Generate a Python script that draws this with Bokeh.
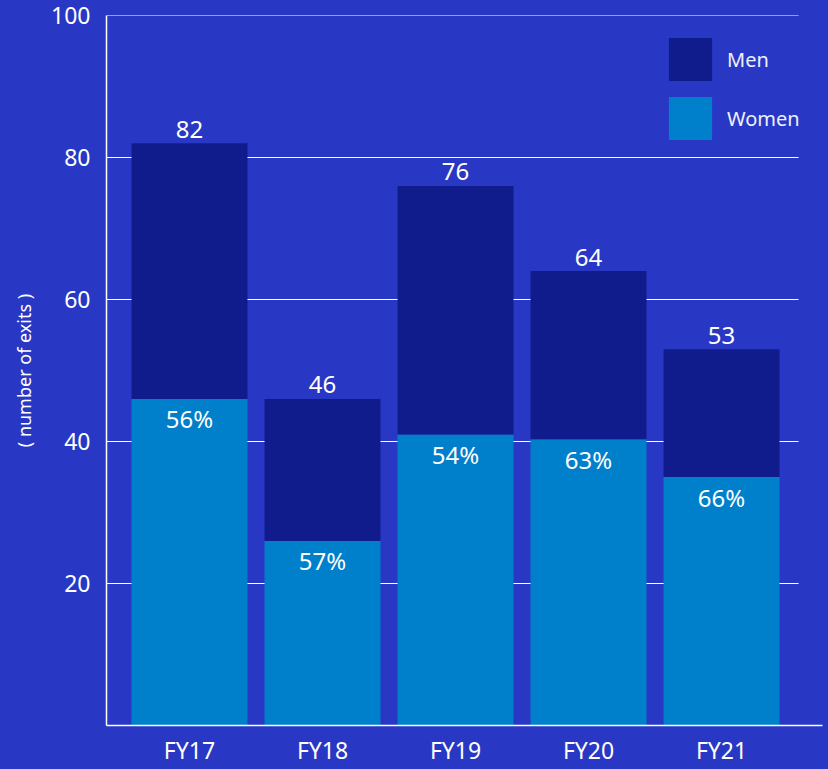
from bokeh.plotting import figure
from bokeh.models import ColumnDataSource, Range1d, FixedTicker, Legend, LegendItem
from bokeh.embed import file_html
from bokeh.resources import INLINE
from bokeh.core.properties import value

# ---- data ----
years = ["FY17", "FY18", "FY19", "FY20", "FY21"]
totals = [82, 46, 76, 64, 53]
women = [46, 26, 41, 40.3, 35]
women_pct = ["56%", "57%", "54%", "63%", "66%"]
y_ticks = [20, 40, 60, 80, 100]

BG = "#2938c4"
MEN_C = "#111c8c"
WOMEN_C = "#0080cb"
FONT = "Noto Sans"

X_START, X_END, GRID_END = -0.624, 4.759, 4.579

xs = list(range(len(years)))
men = [t - w for t, w in zip(totals, women)]
src = ColumnDataSource(dict(x=xs, women=women, men=men, total=totals,
                            pct=women_pct, total_lbl=[str(t) for t in totals]))

p = figure(frame_width=716, frame_height=710, output_backend="svg", toolbar_location=None,
           x_range=Range1d(X_START, X_END), y_range=Range1d(0, 100),
           min_border_left=106, min_border_right=6, min_border_top=15, min_border_bottom=40)
p.background_fill_color = BG
p.border_fill_color = BG
p.outline_line_color = None

# horizontal grid lines (shorter than the x axis, as in the original)
p.segment(x0=[X_START] * len(y_ticks), y0=y_ticks, x1=[GRID_END] * len(y_ticks), y1=y_ticks,
          line_color="white", line_width=1.2)

r = p.vbar_stack(["women", "men"], x="x", width=0.872, source=src,
                 color=[WOMEN_C, MEN_C], line_color=None)

p.text(x="x", y="total", text="total_lbl", source=src, text_color="white",
       text_font=value(FONT), text_font_size="24px", text_align="center",
       text_baseline="alphabetic", y_offset=-14)
p.text(x="x", y="women", text="pct", source=src, text_color="white",
       text_font=value(FONT), text_font_size="24px", text_align="center",
       text_baseline="alphabetic", y_offset=20)

# axes
p.xaxis.ticker = FixedTicker(ticks=xs)
p.xaxis.major_label_overrides = {i: y for i, y in enumerate(years)}
p.yaxis.ticker = FixedTicker(ticks=y_ticks)
for ax in (p.xaxis[0], p.yaxis[0]):
    ax.axis_line_color = "white"
    ax.axis_line_width = 1.5
    ax.major_tick_out = 0
    ax.major_tick_in = 0
    ax.minor_tick_out = 0
    ax.minor_tick_in = 0
    ax.major_label_text_color = "white"
    ax.major_label_text_font = FONT
    ax.major_label_text_font_size = "23px"
p.yaxis.major_label_standoff = 16
p.xaxis.major_label_standoff = 8
p.yaxis.axis_label = "( number of exits )"
p.yaxis.axis_label_text_color = "white"
p.yaxis.axis_label_text_font = FONT
p.yaxis.axis_label_text_font_size = "18px"
p.yaxis.axis_label_text_font_style = "normal"
p.yaxis.axis_label_standoff = 12

p.xgrid.grid_line_color = None
p.ygrid.grid_line_color = None

legend = Legend(items=[LegendItem(label="Men", renderers=[r[1]]),
                       LegendItem(label="Women", renderers=[r[0]])],
                location=(557, 580), orientation="vertical",
                glyph_width=54, glyph_height=54, spacing=5, padding=0, margin=0,
                label_standoff=10, label_text_color="#eef0fb",
                label_text_font=FONT, label_text_font_size="20px",
                label_text_baseline="middle",
                background_fill_alpha=0, border_line_color=None)
p.add_layout(legend)

html = file_html(p, INLINE)
html = html.replace("</head>", "<style>html,body{background:%s;}</style></head>" % BG, 1)
open("out.html", "w").write(html)
